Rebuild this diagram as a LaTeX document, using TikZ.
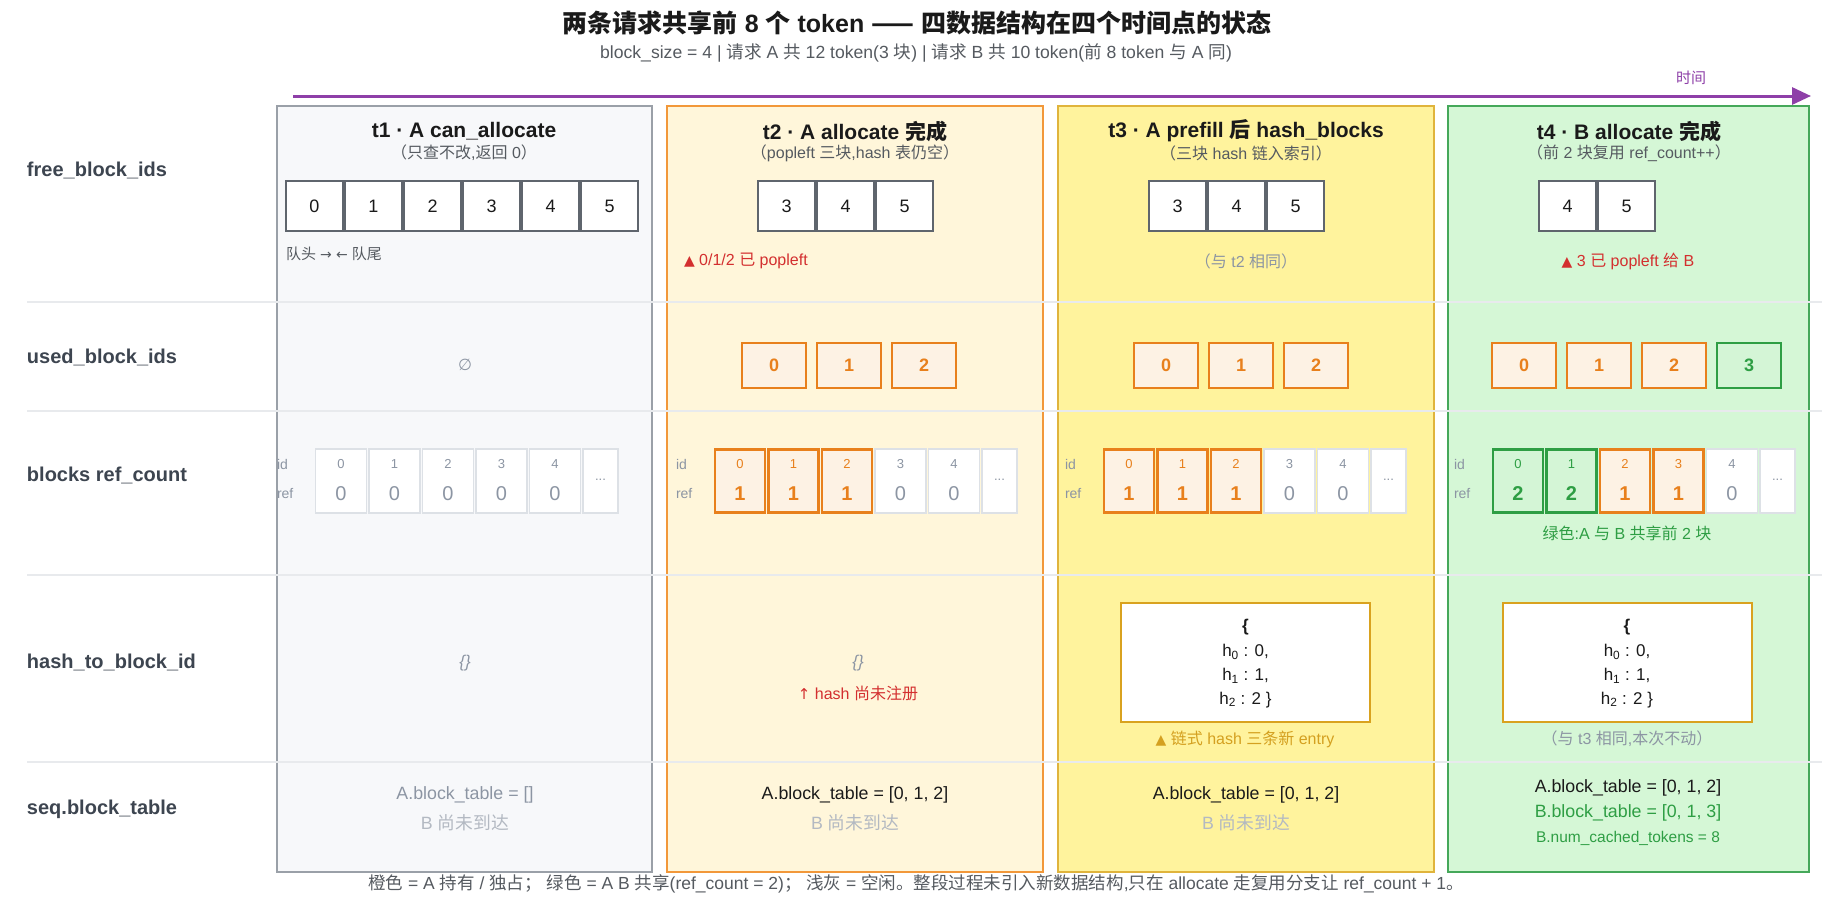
\documentclass[tikz,border=0pt]{standalone}
\usepackage{fontspec}
\setmainfont{Liberation Sans}
\newfontfamily\cjkfamily{Noto Sans CJK SC}
\newfontfamily\symfamily{DejaVu Sans}
\usetikzlibrary{arrows.meta}
% automatic switch to the CJK font for CJK characters
\XeTeXinterchartokenstate=1
\newXeTeXintercharclass\CJKcls
\newcount\cjkc
\def\setcjkrange#1#2{\cjkc=#1\relax\loop\XeTeXcharclass\cjkc=\CJKcls\relax\advance\cjkc by 1\relax\ifnum\cjkc<#2\relax\repeat}
\setcjkrange{"4E00}{"A000}
\setcjkrange{"3000}{"3040}
\setcjkrange{"FF00}{"FFF0}
\XeTeXcharclass"2014=\CJKcls
\XeTeXinterchartoks 0 \CJKcls={\cjkfamily}
\XeTeXinterchartoks 4095 \CJKcls={\cjkfamily}
\XeTeXinterchartoks \CJKcls 0={\rmfamily}
\XeTeXinterchartoks \CJKcls 4095={\rmfamily}

\definecolor{dark}{HTML}{1A1A1A}
\definecolor{labelc}{HTML}{3D4550}
\definecolor{subc}{HTML}{555A60}
\definecolor{grayt}{HTML}{8C95A3}
\definecolor{lgrayt}{HTML}{B3B9C2}
\definecolor{redt}{HTML}{D32F2F}
\definecolor{orng}{HTML}{E8801C}
\definecolor{orngfill}{HTML}{FDF2E4}
\definecolor{grn}{HTML}{2E9E44}
\definecolor{grnfill}{HTML}{D4F5D6}
\definecolor{gold}{HTML}{D9A21F}
\definecolor{goldt}{HTML}{D4A020}
\definecolor{purp}{HTML}{8E3FA8}
\definecolor{sepc}{HTML}{E8EAED}
\definecolor{boxb}{HTML}{5F656D}
\definecolor{cellb}{HTML}{DDE1E6}
\definecolor{p1f}{HTML}{F7F8FA}\definecolor{p1b}{HTML}{9AA0A8}
\definecolor{p2f}{HTML}{FFF6DA}\definecolor{p2b}{HTML}{F2983A}
\definecolor{p3f}{HTML}{FFF39D}\definecolor{p3b}{HTML}{E0B43C}
\definecolor{p4f}{HTML}{D5F7D6}\definecolor{p4b}{HTML}{45A85A}

\newcommand\fs[1]{\fontsize{#1}{#1}\selectfont}

\tikzset{
  txt/.style={inner sep=0pt, outer sep=0pt},
  title/.style={txt, font=\fs{25}\bfseries, text=dark},
  subtitle/.style={txt, font=\fs{17.6}, text=subc},
  rowlbl/.style={txt, anchor=west, font=\fs{20}\bfseries, text=labelc},
  panel/.style={rectangle, line width=1.5pt, minimum height=766pt, inner sep=0pt},
  ptitle/.style={txt, font=\fs{21}\bfseries, text=dark},
  psub/.style={txt, font=\fs{16}, text=subc},
  freebox/.style={draw=boxb, line width=1.4pt, fill=white, minimum width=57pt, minimum height=50pt, inner sep=0pt, font=\fs{18}, text=dark},
  note/.style={txt, font=\fs{16}},
  usedo/.style={draw=orng, line width=1.4pt, fill=orngfill, minimum width=64pt, minimum height=45pt, inner sep=0pt, font=\fs{18}\bfseries, text=orng},
  usedg/.style={draw=grn, line width=1.4pt, fill=grnfill, minimum width=64pt, minimum height=45pt, inner sep=0pt, font=\fs{18}\bfseries, text=grn},
  idlbl/.style={txt, anchor=west, font=\fs{14}, text=grayt},
  gcell/.style={draw=cellb, line width=1.2pt, fill=white, minimum width=51pt, minimum height=64pt, inner sep=0pt},
  ocell/.style={draw=orng, line width=2.2pt, fill=orngfill, minimum width=50pt, minimum height=63pt, inner sep=0pt},
  Gcell/.style={draw=grn, line width=2.2pt, fill=grnfill, minimum width=50pt, minimum height=63pt, inner sep=0pt},
  gid/.style={txt, font=\fs{13}, text=grayt},
  oid/.style={txt, font=\fs{13}, text=orng},
  Gid/.style={txt, font=\fs{13}, text=grn},
  gval/.style={txt, font=\fs{20}, text=grayt},
  oval/.style={txt, font=\fs{20}\bfseries, text=orng},
  Gval/.style={txt, font=\fs{20}\bfseries, text=grn},
  hashbox/.style={draw=gold, line width=2pt, fill=white, minimum width=249pt, minimum height=119pt, inner sep=0pt},
  hashtxt/.style={txt, font=\fs{17}, text=dark},
  seqtxt/.style={txt, font=\fs{17.8}},
  sep/.style={draw=sepc, line width=1.5pt},
}

% ref_count row: #1 tag, #2 x of the "id" label, #3 list style/value
\newcommand\refrow[3]{%
  \node[idlbl] (#1-idl) at (#2,464) {id};
  \node[idlbl] (#1-refl) at (#2,493) {ref};
  \foreach \st/\v [count=\i from 0] in {#3} {
    \node[\st cell] (#1-c\i) at ({#2+64+53.5*\i},481) {};
    \node[\st id] (#1-ci\i) at ({#2+64+53.5*\i},464) {\i};
    \node[\st val] (#1-cv\i) at ({#2+64+53.5*\i},494) {\v};
  }
  \node[gcell, minimum width=35pt] (#1-cdots) at ({#2+323.5},481) {};
  \node[gid] (#1-dots) at ({#2+323.5},480) {...};
}

\begin{document}
\begin{tikzpicture}[x=1pt,y=-1pt]
\useasboundingbox (0,0) rectangle (1836,900);
\fill[white] (0,0) rectangle (1836,900);

% title
\node[title] (title) at (917,23) {两条请求共享前 8 个 token —— 四数据结构在四个时间点的状态};
\node[subtitle] (subtitle) at (916,53) {block\_size = 4 | 请求 A 共 12 token(3 块) | 请求 B 共 10 token(前 8 token 与 A 同)};

% time arrow
\coordinate (ts) at (293,96);
\coordinate (te) at (1811,96);
\draw[purp, line width=3pt, -{Triangle[length=19pt,width=17pt]}] (ts) -- (te);
\node[txt, font=\fs{15}, text=purp] (timelbl) at (1691,78) {时间};

% panels
\node[panel, fill=p1f, draw=p1b, minimum width=375pt] (P1) at (464.5,489) {};
\node[panel, fill=p2f, draw=p2b, minimum width=376pt] (P2) at (855,489) {};
\node[panel, fill=p3f, draw=p3b, minimum width=376pt] (P3) at (1246,489) {};
\node[panel, fill=p4f, draw=p4b, minimum width=361pt] (P4) at (1628.5,489) {};

% row separators
\coordinate (s1a) at (27,302); \coordinate (s1b) at (1822,302);
\coordinate (s2a) at (27,411); \coordinate (s2b) at (1822,411);
\coordinate (s3a) at (27,575); \coordinate (s3b) at (1822,575);
\coordinate (s4a) at (27,762); \coordinate (s4b) at (1822,762);
\draw[sep] (s1a) -- (s1b);
\draw[sep] (s2a) -- (s2b);
\draw[sep] (s3a) -- (s3b);
\draw[sep] (s4a) -- (s4b);

% row labels
\node[rowlbl] (L1) at (27,170) {free\_block\_ids};
\node[rowlbl] (L2) at (27,357) {used\_block\_ids};
\node[rowlbl] (L3) at (27,475) {blocks ref\_count};
\node[rowlbl] (L4) at (27,662) {hash\_to\_block\_id};
\node[rowlbl] (L5) at (27,809) {seq.block\_table};

% panel headers
\node[ptitle] (P1t) at (464,131) {t1 · A can\_allocate};
\node[psub] (P1s) at (464,153) {（只查不改,返回 0）};
\node[ptitle] (P2t) at (855,131) {t2 · A allocate 完成};
\node[psub] (P2s) at (855,153) {（popleft 三块,hash 表仍空）};
\node[ptitle] (P3t) at (1246,131) {t3 · A prefill 后 hash\_blocks};
\node[psub] (P3s) at (1246,153) {（三块 hash 链入索引）};
\node[ptitle] (P4t) at (1629,131) {t4 · B allocate 完成};
\node[psub] (P4s) at (1629,153) {（前 2 块复用 ref\_count++）};

% free_block_ids
\foreach \v [count=\i from 0] in {0,1,2,3,4,5}
  \node[freebox] (f1-\i) at ({314.5+59*\i},206) {\v};
\foreach \v [count=\i from 0] in {3,4,5}
  \node[freebox] (f2-\i) at ({786.5+59*\i},206) {\v};
\foreach \v [count=\i from 0] in {3,4,5}
  \node[freebox] (f3-\i) at ({1177.5+59*\i},206) {\v};
\foreach \v [count=\i from 0] in {4,5}
  \node[freebox] (f4-\i) at ({1567.5+59*\i},206) {\v};
\node[note, anchor=west, text=subc, font=\fs{15}] (n1) at (286,254) {队头 {\symfamily\fs{14}→} {\symfamily\fs{14}←} 队尾};
\node[note, anchor=west, text=redt] (n2) at (684,261) {{\symfamily\fs{14}▲} 0/1/2 已 popleft};
\node[note, text=grayt] (n3) at (1246,261) {（与 t2 相同）};
\node[note, text=redt] (n4) at (1628,261) {{\symfamily\fs{14}▲} 3 已 popleft 给 B};

% used_block_ids
\node[txt, font=\fs{16}\itshape, text=grayt] (u1) at (465,365) {{\symfamily ∅}};
\foreach \v [count=\i from 0] in {0,1,2}
  \node[usedo] (u2-\i) at ({774+75*\i},365.5) {\v};
\foreach \v [count=\i from 0] in {0,1,2}
  \node[usedo] (u3-\i) at ({1166+75*\i},365.5) {\v};
\foreach \v [count=\i from 0] in {0,1,2}
  \node[usedo] (u4-\i) at ({1524+75*\i},365.5) {\v};
\node[usedg] (u4-3) at (1749,365.5) {3};

% blocks ref_count
\refrow{r1}{277}{g/0,g/0,g/0,g/0,g/0}
\refrow{r2}{676}{o/1,o/1,o/1,g/0,g/0}
\refrow{r3}{1065}{o/1,o/1,o/1,g/0,g/0}
\refrow{r4}{1454}{G/2,G/2,o/1,o/1,g/0}
\node[note, text=grn] (n5) at (1627,533) {绿色:A 与 B 共享前 2 块};

% hash_to_block_id
\node[txt, font=\fs{17}\itshape, text=grayt] (h1) at (465,663) {\{\}};
\node[txt, font=\fs{17}\itshape, text=grayt] (h2) at (858,663) {\{\}};
\node[note, text=redt] (h2n) at (858,693) {{\symfamily\fs{15}↑} hash 尚未注册};
\node[hashbox] (H3) at (1245.5,662.5) {};
\node[hashtxt, font=\fs{17}\bfseries] at (1245.5,627) {\{};
\node[hashtxt] at (1245.5,652) {h\textsubscript{0} : 0,};
\node[hashtxt] at (1245.5,676) {h\textsubscript{1} : 1,};
\node[hashtxt] at (1245.5,700) {h\textsubscript{2} : 2 \}};
\node[note, text=goldt] (h3n) at (1245,739) {{\symfamily\fs{14}▲} 链式 hash 三条新 entry};
\node[hashbox] (H4) at (1627,662.5) {};
\node[hashtxt, font=\fs{17}\bfseries] at (1627,627) {\{};
\node[hashtxt] at (1627,652) {h\textsubscript{0} : 0,};
\node[hashtxt] at (1627,676) {h\textsubscript{1} : 1,};
\node[hashtxt] at (1627,700) {h\textsubscript{2} : 2 \}};
\node[note, text=grayt] (h4n) at (1627,739) {（与 t3 相同,本次不动）};

% seq.block_table
\node[seqtxt, text=grayt] (q1a) at (465,795) {A.block\_table = []};
\node[seqtxt, text=lgrayt] (q1b) at (465,823) {B 尚未到达};
\node[seqtxt, text=dark] (q2a) at (855,795) {A.block\_table = [0, 1, 2]};
\node[seqtxt, text=lgrayt] (q2b) at (855,823) {B 尚未到达};
\node[seqtxt, text=dark] (q3a) at (1246,795) {A.block\_table = [0, 1, 2]};
\node[seqtxt, text=lgrayt] (q3b) at (1246,823) {B 尚未到达};
\node[seqtxt, text=dark] (q4a) at (1628,788) {A.block\_table = [0, 1, 2]};
\node[seqtxt, text=grn] (q4b) at (1628,813) {B.block\_table = [0, 1, 3]};
\node[seqtxt, text=grn, font=\fs{15.5}] (q4c) at (1628,838) {B.num\_cached\_tokens = 8};

% footer
\node[txt, font=\fs{17.5}, text=subc] (foot) at (916,884) {橙色 = A 持有 / 独占； 绿色 = A B 共享(ref\_count = 2)； 浅灰 = 空闲。整段过程未引入新数据结构,只在 allocate 走复用分支让 ref\_count + 1。};
\end{tikzpicture}
\end{document}
